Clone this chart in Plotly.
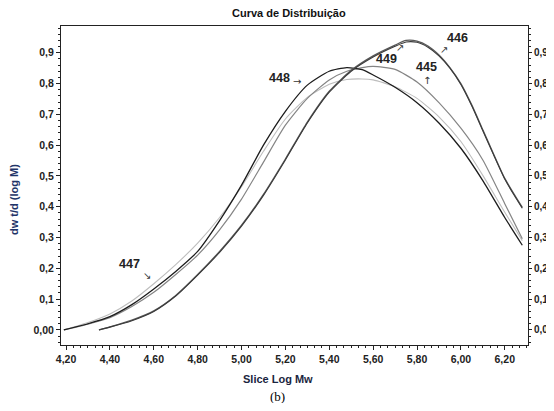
import plotly.graph_objects as go

# ---- data ----
x_main = [4.19, 4.30, 4.40, 4.50, 4.60, 4.70, 4.80, 4.90, 5.00, 5.10, 5.20, 5.30,
          5.40, 5.48, 5.55, 5.60, 5.70, 5.80, 5.90, 6.00, 6.10, 6.20, 6.28]
y_448 = [0.000, 0.020, 0.043, 0.082, 0.133, 0.190, 0.255, 0.355, 0.470, 0.600, 0.710, 0.795,
         0.840, 0.852, 0.845, 0.828, 0.788, 0.738, 0.672, 0.590, 0.485, 0.365, 0.275]
y_447 = [0.000, 0.024, 0.052, 0.094, 0.150, 0.212, 0.282, 0.365, 0.465, 0.580, 0.685, 0.755,
         0.798, 0.813, 0.815, 0.812, 0.790, 0.752, 0.692, 0.612, 0.502, 0.382, 0.290]
y_445 = [0.000, 0.019, 0.040, 0.076, 0.122, 0.180, 0.243, 0.325, 0.425, 0.545, 0.665, 0.752,
         0.812, 0.840, 0.852, 0.856, 0.846, 0.805, 0.738, 0.655, 0.552, 0.410, 0.296]

x_late = [4.35, 4.40, 4.50, 4.60, 4.70, 4.80, 4.90, 5.00, 5.10, 5.20, 5.30, 5.40, 5.50,
          5.60, 5.70, 5.75, 5.80, 5.85, 5.90, 5.95, 6.00, 6.05, 6.10, 6.15, 6.20, 6.25, 6.28]
y_446 = [0.000, 0.010, 0.032, 0.062, 0.112, 0.180, 0.255, 0.340, 0.440, 0.555, 0.675, 0.775, 0.843,
         0.890, 0.925, 0.940, 0.938, 0.922, 0.893, 0.852, 0.800, 0.730, 0.650, 0.570, 0.492, 0.432, 0.398]
y_449 = [0.000, 0.009, 0.030, 0.060, 0.110, 0.178, 0.252, 0.337, 0.437, 0.552, 0.672, 0.772, 0.840,
         0.886, 0.921, 0.935, 0.934, 0.918, 0.890, 0.850, 0.797, 0.727, 0.647, 0.567, 0.490, 0.429, 0.395]

x_tickvals = [4.2, 4.4, 4.6, 4.8, 5.0, 5.2, 5.4, 5.6, 5.8, 6.0, 6.2]
x_ticktext = ["4,20", "4,40", "4,60", "4,80", "5,00", "5,20", "5,40", "5,60", "5,80", "6,00", "6,20"]
y_tickvals = [0.0, 0.1, 0.2, 0.3, 0.4, 0.5, 0.6, 0.7, 0.8, 0.9]
y_ticktext = ["0,00", "0,1", "0,2", "0,3", "0,4", "0,5", "0,6", "0,7", "0,8", "0,9"]

labels = [("448", 5.175, 0.818), ("449", 5.660, 0.880), ("446", 5.985, 0.947),
          ("445", 5.841, 0.853), ("447", 4.490, 0.213)]
arrows = [("→", 5.252, 0.807), ("↗", 5.722, 0.917), ("↗", 5.922, 0.912),
          ("↑", 5.845, 0.810), ("↘", 4.570, 0.177)]

# the page body has an 8px default margin; the figure is laid out in page pixels minus it
OFF = 8
W, H = 554 - OFF, 411 - 2 * OFF
L, R, T, B = 61 - OFF, 528 - OFF, 26 - OFF, 345 - OFF
XR = [4.177, 6.306]
YR = [-0.049, 0.987]

line_kw = dict(shape="spline", smoothing=0.6)
fig = go.Figure()
fig.add_trace(go.Scatter(x=x_main, y=y_447, mode="lines", line=dict(color="#bdbdbd", width=1.1, **line_kw), name="447"))
fig.add_trace(go.Scatter(x=x_main, y=y_445, mode="lines", line=dict(color="#858585", width=1.2, **line_kw), name="445"))
fig.add_trace(go.Scatter(x=x_main, y=y_448, mode="lines", line=dict(color="#1c1c1c", width=1.3, **line_kw), name="448"))
fig.add_trace(go.Scatter(x=x_late, y=y_446, mode="lines", line=dict(color="#5a5a5a", width=1.3, **line_kw), name="446"))
fig.add_trace(go.Scatter(x=x_late, y=y_449, mode="lines", line=dict(color="#3a3a3a", width=1.1, **line_kw), name="449", yaxis="y2"))

tickfont = dict(family="Liberation Sans", size=10.5, color="#222222", weight="bold")
tickfont_r = dict(family="Liberation Sans", size=10, color="#222222", weight="bold")
axis_common = dict(showgrid=False, zeroline=False, showline=True, linecolor="#222222", linewidth=1,
                   ticks="outside", tickcolor="#222222")

fig.update_layout(
    width=W, height=H,
    margin=dict(l=L, r=W - R, t=T, b=H - B, pad=0, autoexpand=False),
    paper_bgcolor="white", plot_bgcolor="white",
    showlegend=False,
    xaxis=dict(range=XR, tickvals=x_tickvals, ticktext=x_ticktext, mirror=True, automargin=False,
               ticklen=4, tickfont=tickfont,
               minor=dict(tick0=4.2, dtick=0.2 / 6, ticks="outside", ticklen=2, tickcolor="#222222"),
               **axis_common),
    yaxis=dict(range=YR, tickvals=y_tickvals, ticktext=y_ticktext, automargin=False,
               ticklen=4, tickfont=tickfont,
               minor=dict(tick0=0, dtick=0.02, ticks="outside", ticklen=2, tickcolor="#222222"),
               **axis_common),
    yaxis2=dict(range=YR, tickvals=y_tickvals, ticktext=y_ticktext, overlaying="y", side="right",
                automargin=False, ticklen=3, tickfont=tickfont_r,
                minor=dict(tick0=0, dtick=0.02, ticks="outside", ticklen=2, tickcolor="#222222"),
                **axis_common),
)

def px_to_paper(px, py):
    # px, py are page pixels as in the reference picture
    return (px - OFF - L) / (R - L), (B - (py - OFF)) / (B - T)

ctr = dict(xanchor="center", yanchor="middle", showarrow=False)
ann = []
tx, ty = px_to_paper(289, 13)
ann.append(dict(text="<b>Curva de Distribuição</b>", x=tx, y=ty, xref="paper", yref="paper",
                font=dict(family="Liberation Sans", size=11, color="#111111"), **ctr))
tx, ty = px_to_paper(278, 379)
ann.append(dict(text="<b>Slice Log Mw</b>", x=tx, y=ty, xref="paper", yref="paper",
                font=dict(family="Liberation Sans", size=11, color="#1a2540"), **ctr))
tx, ty = px_to_paper(14, 200)
ann.append(dict(text="<b>dw t/d (log M)</b>", x=tx, y=ty, xref="paper", yref="paper", textangle=-90,
                font=dict(family="Liberation Sans", size=11, color="#1f3468"), **ctr))
tx, ty = px_to_paper(277, 396)
ann.append(dict(text="(b)", x=tx, y=ty, xref="paper", yref="paper",
                font=dict(family="Liberation Serif", size=13, color="#000000"), **ctr))
for t, x, y in labels:
    ann.append(dict(text="<b>" + t + "</b>", x=x, y=y, xref="x", yref="y",
                    font=dict(family="Liberation Sans", size=12.5, color="#222222"), **ctr))
for t, x, y in arrows:
    ann.append(dict(text=t, x=x, y=y, xref="x", yref="y",
                    font=dict(family="DejaVu Sans", size=10, color="#333333"), **ctr))
fig.update_layout(annotations=ann)

fig.write_html("out.html")
